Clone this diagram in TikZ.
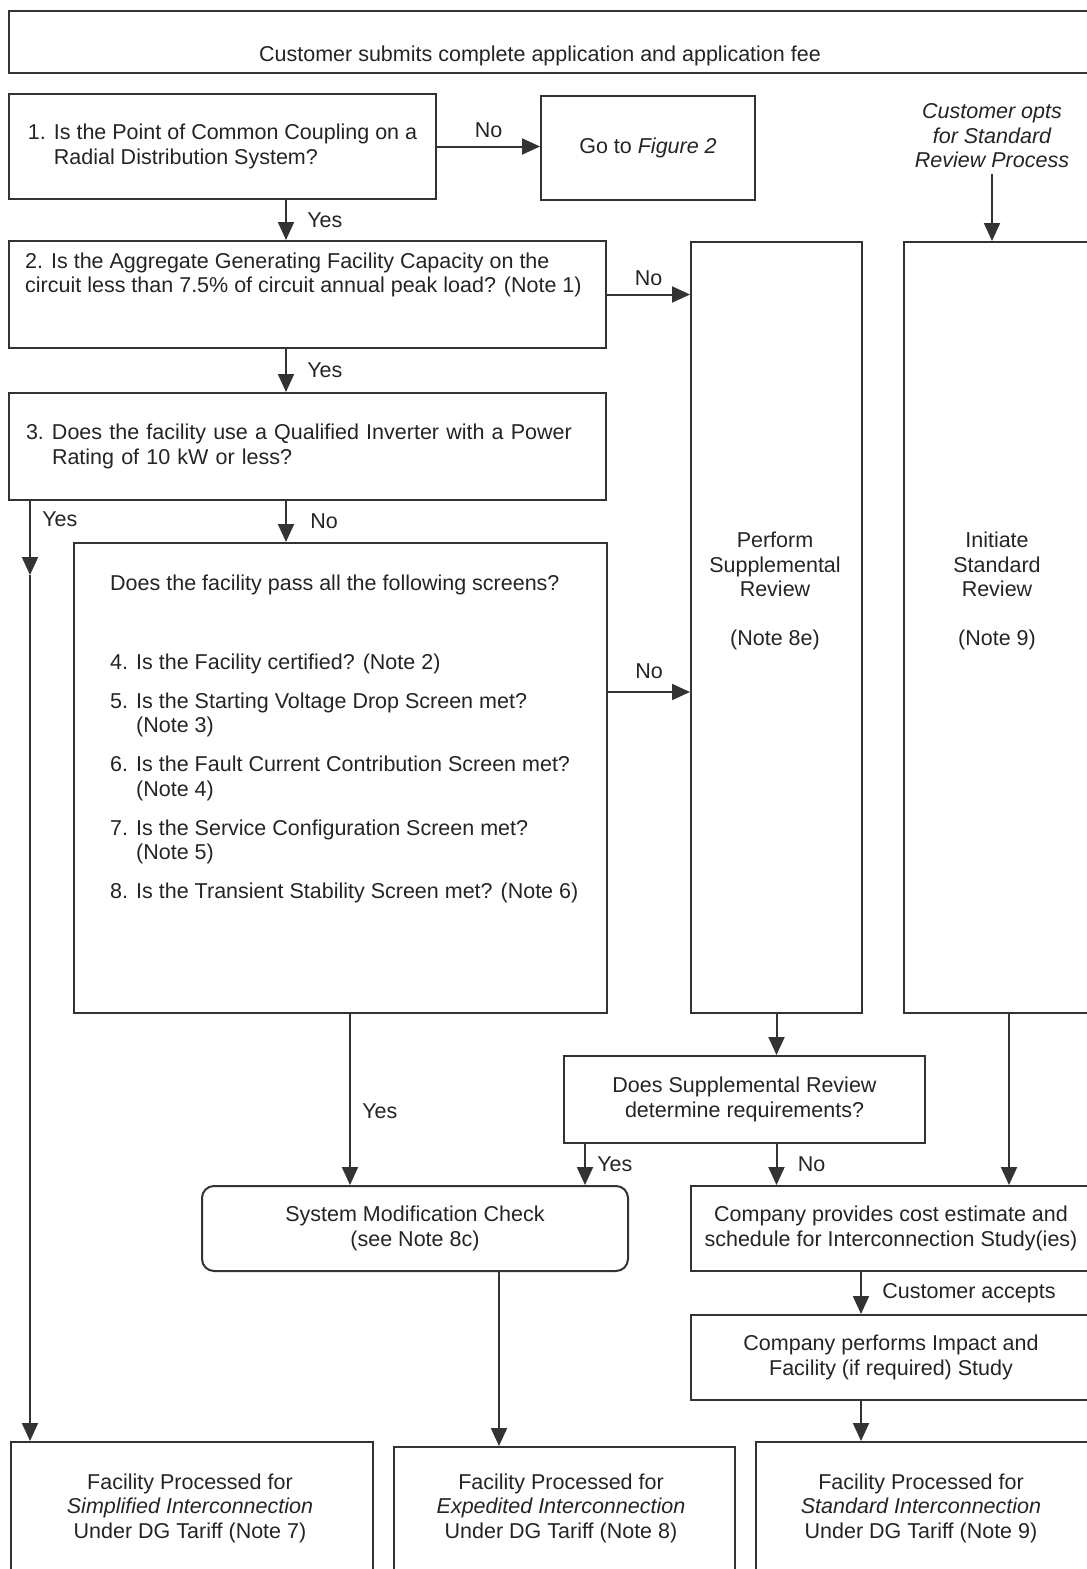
\documentclass[tikz,border=0pt]{standalone}
\usepackage{fontspec}
\setmainfont{Liberation Sans}
\usetikzlibrary{arrows.meta,positioning}
\definecolor{ink}{gray}{0.14}
\definecolor{rule}{gray}{0.2}
\newcommand{\qnum}[1]{\makebox[26pt][l]{#1}}
\newcommand{\qind}{\hspace*{26pt}}

\begin{document}
\begin{tikzpicture}
	[x=1pt,y=-1pt,font=\fontsize{21.5}{24.5}\selectfont,text=ink,
	box/.style={shape=rectangle,draw=rule,line width=2pt,anchor=north west,inner sep=0pt,align=center},
	qbox/.style={box,align=left,inner xsep=17pt},
	txt/.style={align=center,inner sep=0pt},
	flow/.style={every edge/.style={draw=rule,line width=2pt,-{Triangle[width=16pt,length=18pt]}}}]
	\useasboundingbox (0,0) rectangle (1087,1569);
	\clip (0,0) rectangle (1087,1569);
	
	\node [box,minimum width=1082,minimum height=62] (top) at (8,10) {};
	\node (toptxt) at (540,56) {Customer submits complete application and application fee};
	
	\node [qbox,minimum width=427,minimum height=105] (q1) at (8,93) {\qnum{1.}Is the Point of Common Coupling on a\\\qind Radial Distribution System?};
	\node [box,minimum width=214,minimum height=104] (fig2) at (540,95) {Go to \textit{Figure 2}};
	\node [txt,inner sep=6pt,font=\fontsize{21.5}{24.5}\selectfont\itshape] (opts) at (992,136) {Customer opts\\for Standard\\Review Process};
	
	\node [box,minimum width=597,minimum height=107] (q2) at (8,240) {};
	\node [anchor=west,align=left,inner sep=0pt] (q2txt) at (25,275) {2. Is the Aggregate Generating Facility Capacity on the\\circuit less than 7.5\% of circuit annual peak load? (Note 1)};
	\node [box,minimum width=171,minimum height=771] (supp) at (690,241) {};
	\node [txt] (supptxt) at (775,591) {Perform\\Supplemental\\Review\\[24.5pt](Note 8e)};
	\node [box,minimum width=187,minimum height=771] (std) at (903,241) {};
	\node [txt] (stdtxt) at (997,591) {Initiate\\Standard\\Review\\[24.5pt](Note 9)};
	
	\node [qbox,text width=563,minimum height=107] (q3) at (8,392) {\qnum{3.}Does the facility use a Qualified Inverter with a Power\\\qind Rating of 10 kW or less?};
	
	\node [box,minimum width=533,minimum height=470] (scr) at (73,542) {};
	\node [anchor=north west,align=left,inner sep=0pt] (scrtxt) at (110,575) {Does the facility pass all the following screens?\\[54pt]
		\qnum{4.}Is the Facility certified? (Note 2)\\[14.5pt]
		\qnum{5.}Is the Starting Voltage Drop Screen met?\\\qind(Note 3)\\[14.5pt]
		\qnum{6.}Is the Fault Current Contribution Screen met?\\\qind(Note 4)\\[14.5pt]
		\qnum{7.}Is the Service Configuration Screen met?\\\qind(Note 5)\\[14.5pt]
		\qnum{8.}Is the Transient Stability Screen met? (Note 6)};
	
	\node [box,minimum width=361,minimum height=87] (dsr) at (563,1055) {Does Supplemental Review\\determine requirements?};
	\node [box,rounded corners=12pt,minimum width=426,minimum height=85] (smc) at (201,1185) {System Modification Check\\(see Note 8c)};
	\node [box,minimum width=400,minimum height=85] (cost) at (690,1185) {Company provides cost estimate and\\schedule for Interconnection Study(ies)};
	\node [box,minimum width=400,minimum height=85] (imp) at (690,1314) {Company performs Impact and\\Facility (if required) Study};
	
	\node [box,minimum width=362,minimum height=140] (simp) at (10,1441) {};
	\node [txt] (simptxt) at (190,1508) {Facility Processed for\\\textit{Simplified Interconnection}\\Under DG Tariff (Note 7)};
	\node [box,minimum width=341,minimum height=135] (expd) at (393,1446) {};
	\node [txt] (expdtxt) at (561,1508) {Facility Processed for\\\textit{Expedited Interconnection}\\Under DG Tariff (Note 8)};
	\node [box,minimum width=335,minimum height=140] (stdi) at (755,1441) {};
	\node [txt] (stditxt) at (921,1508) {Facility Processed for\\\textit{Standard Interconnection}\\Under DG Tariff (Note 9)};
	
	\coordinate (spine) at (286,0);
	\coordinate (left) at (30,575);
	\coordinate (scrno) at (0,692);
	\coordinate (scryes) at (350,0);
	\coordinate (dsryes) at (585,0);
	\coordinate (modout) at (499,0);
	\coordinate (stdout) at (1009,0);
	\coordinate (accept) at (861,0);
	
	\path[flow]
	(q1.east) edge node[above=4pt] {No} (q1.east -| fig2.west)
	(q1.south -| spine) edge node[right=17pt] {Yes} (q2.north -| spine)
	(opts.south) edge (opts.south |- std.north)
	(q2.east) edge node[above=4pt] {No} (q2.east -| supp.west)
	(q2.south -| spine) edge node[right=17pt] {Yes} (q3.north -| spine)
	(q3.south -| spine) edge node[right=20pt] {No} (scr.north -| spine)
	(q3.south -| left) edge node[pos=.25,right=8pt] {Yes} (left)
	(left) edge (left |- simp.north)
	(scr.east |- scrno) edge node[above=9pt] {No} (supp.west |- scrno)
	(scr.south -| scryes) edge node[pos=.57,right=8pt] {Yes} (smc.north -| scryes)
	(supp.south) edge (supp.south |- dsr.north)
	(dsr.south -| dsryes) edge node[right=8pt] {Yes} (smc.north -| dsryes)
	(dsr.south -| supp.south) edge node[right=17pt] {No} (cost.north -| supp.south)
	(std.south -| stdout) edge (cost.north -| stdout)
	(smc.south -| modout) edge (expd.north -| modout)
	(cost.south -| accept) edge node[right=17pt] {Customer accepts} (imp.north -| accept)
	(imp.south -| accept) edge (stdi.north -| accept);
	
\end{tikzpicture}
\end{document}
